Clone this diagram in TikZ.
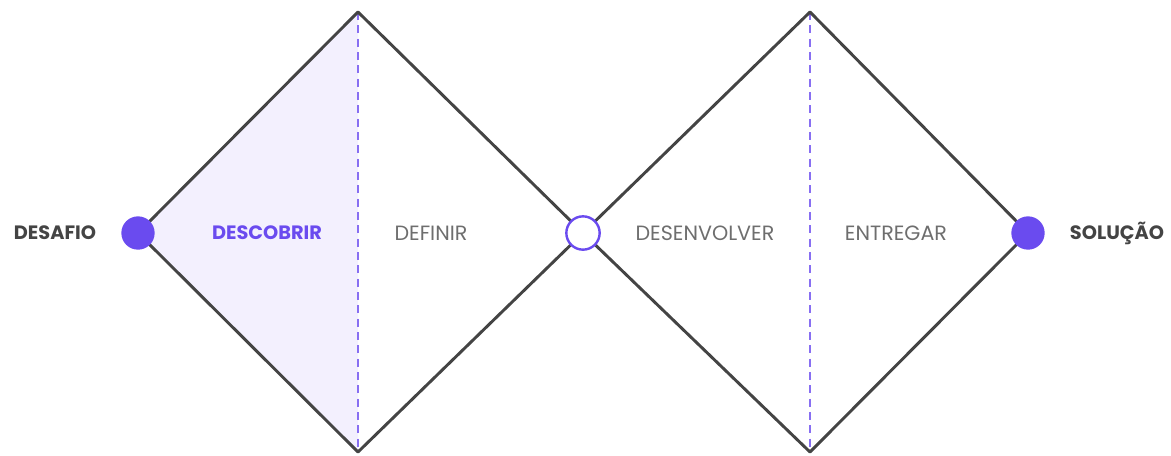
\documentclass[tikz,border=0pt]{standalone}
\usepackage{fontspec}
\setmainfont{Poppins}
\usepackage{tikz}
\usetikzlibrary{positioning, calc}
\definecolor{violeta}{HTML}{6A4BEF}
\definecolor{lilas}{HTML}{F3F0FE}
\definecolor{grafite}{HTML}{444444}
\definecolor{cinza}{HTML}{6E6E6E}

\begin{document}
\begin{tikzpicture}[
    x=0.75pt, y=-0.75pt,
    edge/.style={draw=grafite, line width=2.2pt, line cap=round, line join=round},
    divisor/.style={draw=violeta!80, line width=1pt, dash pattern=on 6pt off 4pt},
    marco/.style={circle, minimum size=25pt, inner sep=0pt},
    cheio/.style={marco, fill=violeta},
    vazio/.style={marco, fill=white, draw=violeta, line width=1.8pt},
    fase/.style={font=\fontsize{15.5}{17}\selectfont, text=cinza},
    ponta/.style={font=\fontsize{14.5}{17}\selectfont\bfseries, text=grafite},
  ]
  \useasboundingbox (0,0) rectangle (1171,455);

  % vertices of the two diamonds
  \coordinate (topo1) at (358,12);
  \coordinate (base1) at (358,452);
  \coordinate (topo2) at (810,12);
  \coordinate (base2) at (810,452);

  % light fill of the first phase
  \fill[lilas] (138,233) -- (topo1) -- (base1) -- cycle;

  % dashed dividers
  \draw[divisor] (topo1) -- (base1);
  \draw[divisor] (topo2) -- (base2);

  \coordinate (inicio) at (138,233);
  \coordinate (meio) at (583,233);
  \coordinate (fim) at (1028,233);

  \draw[edge] (inicio) -- (topo1) -- (meio) -- (base1) -- cycle;
  \draw[edge] (meio) -- (topo2) -- (fim) -- (base2) -- cycle;

  \node[cheio] (desafio) at (inicio) {};
  \node[vazio] (centro) at (meio) {};
  \node[cheio] (solucao) at (fim) {};

  % labels
  \node[ponta] (ldesafio) at (55,233) {DESAFIO};
  \node[ponta, text=violeta] (descobrir) at (267,233) {DESCOBRIR};
  \node[fase] (definir) at (431,233) {DEFINIR};
  \node[fase] (desenvolver) at (705,233) {DESENVOLVER};
  \node[fase] (entregar) at (896,233) {ENTREGAR};
  \node[ponta] (lsolucao) at (1117,233) {SOLUÇÃO};
\end{tikzpicture}
\end{document}
